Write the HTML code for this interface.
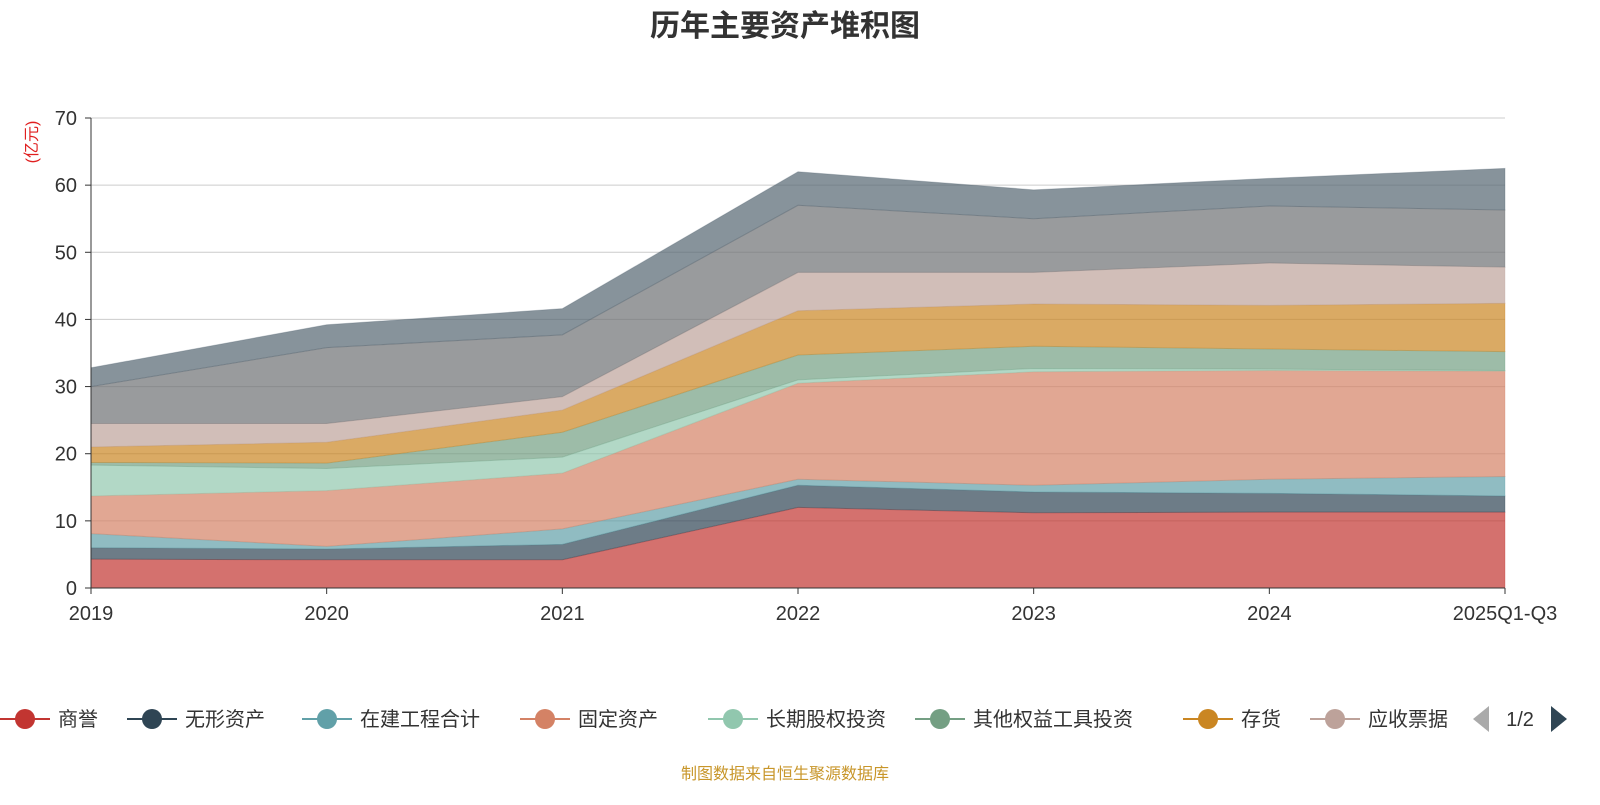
<!DOCTYPE html>
<html><head><meta charset="utf-8">
<style>
body{margin:0;background:#fff;font-family:"Liberation Sans","Noto Sans CJK SC",sans-serif;}
svg text{font-family:"Liberation Sans","Noto Sans CJK SC",sans-serif;}
</style></head>
<body>
<svg id="chart" width="1600" height="800" xmlns="http://www.w3.org/2000/svg">
<text x="785" y="36" text-anchor="middle" font-size="30" font-weight="bold" fill="#333">历年主要资产堆积图</text>
<text transform="translate(37,142) rotate(-90)" text-anchor="middle" font-size="16" fill="#e02020">(亿元)</text>
<g id="grid"></g><g id="areas"></g><g id="axes"></g><g id="legend"></g>
<text x="785" y="779" text-anchor="middle" font-size="16" fill="#c8962a">制图数据来自恒生聚源数据库</text>
</svg>
<script>
const categories=["2019","2020","2021","2022","2023","2024","2025Q1-Q3"];
const seriesNames=["商誉","无形资产","在建工程合计","固定资产","长期股权投资","其他权益工具投资","存货","应收票据","应收账款","货币资金"];
const s0=[4.3,4.2,4.2,12.0,11.2,11.3,11.3];
const s1=[1.7,1.6,2.3,3.3,3.1,2.8,2.4];
const s2=[2.1,0.4,2.3,0.9,1.0,2.1,2.9];
const s3=[5.6,8.3,8.3,14.3,16.9,16.2,15.7];
const s4=[4.6,3.3,2.4,0.5,0.5,0.2,0.1];
const s5=[0.4,0.8,3.7,3.7,3.3,3.0,2.8];
const s6=[2.3,3.1,3.3,6.6,6.3,6.5,7.2];
const s7=[3.5,2.8,2.0,5.7,4.7,6.3,5.4];
const s8=[5.5,11.3,9.2,10.0,8.0,8.5,8.5];
const s9=[2.8,3.4,3.9,5.0,4.3,4.1,6.2];
const yTicks=[0,10,20,30,40,50,60,70];
const series=[s0,s1,s2,s3,s4,s5,s6,s7,s8,s9];
const colors=["#c23531","#2f4554","#61a0a8","#d48265","#91c7ae","#749f83","#ca8622","#bda29a","#6e7074","#546570"];
const NS="http://www.w3.org/2000/svg";
const x0=91,x1=1505,y0=588,yTop=118,yMax=70;
const xs=i=>x0+i*(x1-x0)/(categories.length-1);
const ys=v=>y0-v*(y0-yTop)/yMax;
function mk(t,a,p){const e=document.createElementNS(NS,t);for(const k in a)e.setAttribute(k,a[k]);p.appendChild(e);return e;}
const grid=document.getElementById('grid'),areas=document.getElementById('areas'),axes=document.getElementById('axes'),legend=document.getElementById('legend');
yTicks.forEach(t=>{
 if(t>0){const l=mk('line',{x1:x0,x2:x1,y1:ys(t),y2:ys(t),stroke:'#ccc','stroke-width':1},grid);
 
 }
 const tk=mk('line',{x1:x0-6,x2:x0,y1:ys(t),y2:ys(t),stroke:'#333'},axes);
 
 
 const tx=mk('text',{x:x0-14,y:ys(t)+7,'text-anchor':'end','font-size':20,fill:'#333'},axes);tx.textContent=t;
 
 
});
let cum=categories.map(()=>0);
series.forEach((s,k)=>{
 const lo=cum.slice();cum=cum.map((c,i)=>c+s[i]);
 let d='';cum.forEach((v,i)=>{d+=(i?'L':'M')+xs(i)+','+ys(v);});
 for(let i=lo.length-1;i>=0;i--)d+='L'+xs(i)+','+ys(lo[i]);
 const p=mk('path',{d:d+'Z',fill:colors[k],'fill-opacity':0.7,stroke:colors[k],'stroke-opacity':0.3,'stroke-width':1},areas);
 
 
});
const ax=mk('line',{x1:x0,x2:x0,y1:yTop,y2:y0,stroke:'#333'},axes);


const xa=mk('line',{x1:x0,x2:x1,y1:y0,y2:y0,stroke:'#333'},axes);


categories.forEach((c,i)=>{
 const tk=mk('line',{x1:xs(i),x2:xs(i),y1:y0,y2:y0+6,stroke:'#333'},axes);
 
 
 const tx=mk('text',{x:xs(i),y:620,'text-anchor':'middle','font-size':20,fill:'#333'},axes);tx.textContent=c;
 
 
});
const legX=[25,152,327,545,733,940,1208,1335];
for(let k=0;k<8;k++){
 const g=mk('g',{},legend);
 
 
 mk('line',{x1:legX[k]-25,x2:legX[k]+25,y1:719,y2:719,stroke:colors[k],'stroke-width':2},g);
 mk('circle',{cx:legX[k],cy:719,r:10,fill:colors[k]},g);
 const t=mk('text',{x:legX[k]+33,y:726,'font-size':20,fill:'#333'},g);t.textContent=seriesNames[k];
}
mk('rect',{x:1456,y:700,width:144,height:40,fill:'#fff'},legend);
const pl=mk('path',{d:'M1489,706L1489,732L1473,719Z',fill:'#aaa'},legend);


const pt=mk('text',{x:1520,y:726,'text-anchor':'middle','font-size':20,fill:'#333'},legend);pt.textContent='1/2';


const pn=mk('path',{d:'M1551,706L1551,732L1567,719Z',fill:'#2f4554'},legend);


</script>
</body></html>
